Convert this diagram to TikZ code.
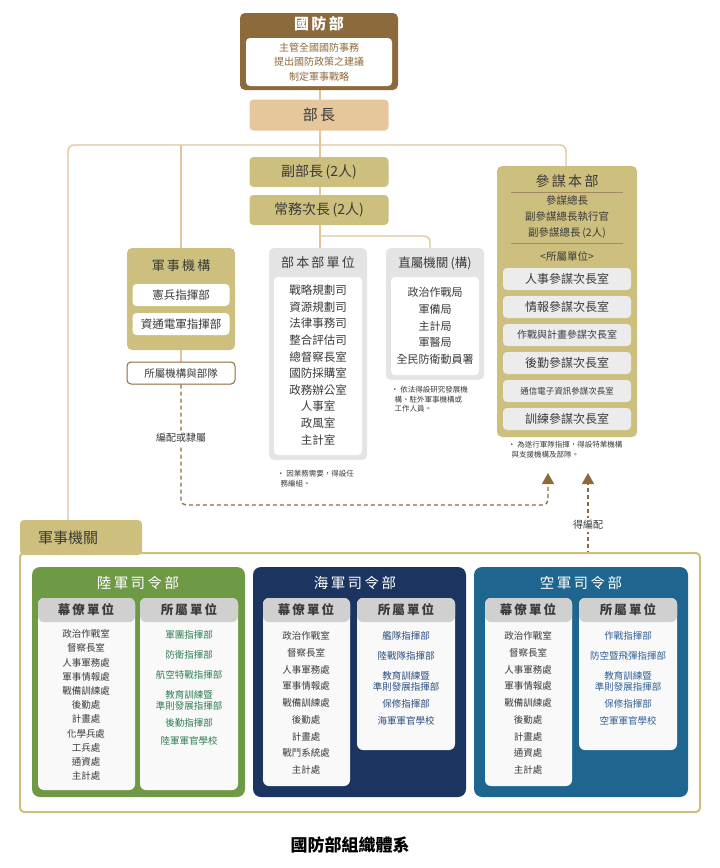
\documentclass[tikz,border=0pt]{standalone}
\usepackage{fontspec}
\setmainfont{Noto Sans CJK TC}
\usetikzlibrary{arrows.meta}
\definecolor{mndbrown}{HTML}{8C6A3C}
\definecolor{mndtan}{HTML}{E6C79C}
\definecolor{mndolive}{HTML}{CDBF7E}
\definecolor{mndline}{HTML}{E0C49C}
\definecolor{mndgray}{HTML}{E4E4E4}
\definecolor{mndtext}{HTML}{3A3A3A}
\definecolor{armygreen}{HTML}{6E9A46}
\definecolor{navyblue}{HTML}{1B3560}
\definecolor{airblue}{HTML}{1E6690}
\definecolor{armytext}{HTML}{2E7D4F}
\definecolor{navytext}{HTML}{2B4C7E}
\definecolor{airtext}{HTML}{2E5F96}
\tikzset{
  box/.style={rounded corners=4pt, inner sep=0pt},
  lbl/.style={text=mndtext, inner sep=0pt, align=center},
  head/.style={lbl, font=\fontsize{14}{16}\selectfont},
  link/.style={mndline, line width=1.3pt},
  dlink/.style={mndbrown, line width=1.3pt, dash pattern=on 4pt off 3pt},
  tip/.style={-{Triangle[length=11pt,width=12pt]}},
  note/.style={lbl, align=left, font=\fontsize{7.5}{9.5}\selectfont},
  colhead/.style={lbl, font=\fontsize{12.5}{14}\selectfont\bfseries},
}
\begin{document}
\begin{tikzpicture}[x=1pt,y=-1pt]
\useasboundingbox (0,0) rectangle (720,868);
% connectors behind
\draw[link, rounded corners=6pt] (68,520) -- (68,145) -- (566,145) -- (566,166);
\draw[link] (181,145) -- (181,248);
\draw[link] (320,90) -- (320,248);
\draw[link, rounded corners=6pt] (320,236) -- (430,236) -- (430,248);
\draw[link] (181,350) -- (181,362);
% top
\fill[mndbrown, rounded corners=5pt] (240,13) rectangle (398,90);
\node[lbl, text=white, font=\fontsize{15}{17}\selectfont\bfseries] (mnd) at (319,24) {國\,防\,部};
\fill[white, rounded corners=4pt] (246,38) rectangle (392,86);
\node[lbl, text=mndbrown, font=\fontsize{10}{14.5}\selectfont] (mndtxt) at (319,62) {主管全國國防事務\\提出國防政策之建議\\制定軍事戰略};
\node[box, fill=mndtan, minimum width=139pt, minimum height=31pt, head, font=\fontsize{15}{17}\selectfont] (minister) at (319,115) {部\,長};
\node[box, fill=mndolive, minimum width=139pt, minimum height=30pt, head] (deputy) at (319,172) {副部長\,(2人)};
\node[box, fill=mndolive, minimum width=139pt, minimum height=30pt, head] (vice) at (319,210) {常務次長\,(2人)};
% 軍事機構
\fill[mndolive, rounded corners=5pt] (127,248) rectangle (235,350);
\node[lbl, font=\fontsize{13}{15}\selectfont] (milorg) at (181,266) {軍\,事\,機\,構};
\node[box, fill=white, minimum width=97pt, minimum height=22pt, lbl, font=\fontsize{11.5}{13}\selectfont] (mp) at (181,295) {憲兵指揮部};
\node[box, fill=white, minimum width=97pt, minimum height=22pt, lbl, font=\fontsize{11.5}{13}\selectfont] (icef) at (181,324) {資通電軍指揮部};
\node[box, draw=mndbrown, line width=1pt, fill=white, minimum width=108pt, minimum height=22pt, lbl, font=\fontsize{10.5}{12}\selectfont] (subunits) at (181,373) {所屬機構與部隊};
% 部本部單位
\fill[mndgray, rounded corners=5pt] (269,248) rectangle (367,460);
\fill[white, rounded corners=4pt] (274,277) rectangle (362,455);
\node[lbl, font=\fontsize{13}{15}\selectfont] (hq) at (318,263) {部\,本\,部\,單\,位};
\node[lbl, font=\fontsize{11.5}{16.6}\selectfont] (hqlist) at (318,365) {戰略規劃司\\資源規劃司\\法律事務司\\整合評估司\\總督察長室\\國防採購室\\政務辦公室\\人事室\\政風室\\主計室};
\node[note, anchor=north west] (hqnote) at (277,470) {• 因業務需要，得設任\\\ \ 務編組。};
% 直屬機關
\fill[mndgray, rounded corners=5pt] (386,248) rectangle (484,380);
\fill[white, rounded corners=4pt] (391,277) rectangle (479,375);
\node[lbl, font=\fontsize{12.5}{15}\selectfont] (direct) at (435,263) {直屬機關\,(構)};
\node[lbl, font=\fontsize{11}{16.6}\selectfont] (dirlist) at (435,326) {政治作戰局\\軍備局\\主計局\\軍醫局\\全民防衛動員署};
\node[note, anchor=north west] (dirnote) at (391,386) {• 依法得設研究發展機\\\ \ 構、駐外軍事機構或\\\ \ 工作人員。};
% 參謀本部
\fill[mndolive, rounded corners=5pt] (497,166) rectangle (637,437);
\node[lbl, font=\fontsize{14}{16}\selectfont] (gs) at (567,181) {參\,謀\,本\,部};
\draw[mndbrown!80, line width=1pt] (511,192) -- (623,192) (511,243) -- (623,243);
\node[lbl, font=\fontsize{10.5}{16}\selectfont] (gschief) at (567,217) {參謀總長\\副參謀總長執行官\\副參謀總長\,(2人)};
\node[lbl, font=\fontsize{10.5}{12}\selectfont] (gssub) at (567,256) {<所屬單位>};
\foreach \y/\t/\f in {279/人事參謀次長室/12, 307/情報參謀次長室/12, 335/作戰與計畫參謀次長室/10, 363/後勤參謀次長室/12, 391/通信電子資訊參謀次長室/8.5, 419/訓練參謀次長室/12}
  \node[box, fill=mndgray!70, minimum width=128pt, minimum height=22pt, lbl, font=\fontsize{\f}{13}\selectfont] at (567,\y) {\t};
\node[note, anchor=north west] (gsnote) at (508,441) {• 為遂行軍隊指揮，得設特業機構\\\ \ 與支援機構及部隊。};
% dashed arrows
\coordinate (tipA) at (548,473);
\coordinate (tipB) at (588,473);
\coordinate (bottomB) at (588,555);
\draw[dlink, tip, rounded corners=5pt] (subunits.south) -- (181,505) -- (548,505) -- (tipA);
\draw[dlink, tip] (bottomB) -- (tipB);
\node[lbl, fill=white, inner sep=2pt, font=\fontsize{10}{12}\selectfont] (assign) at (181,438) {編配或隸屬};
\node[lbl, fill=white, inner sep=2pt, font=\fontsize{10}{12}\selectfont] (assign2) at (588,525) {得編配};
% 軍事機關
\draw[mndolive, line width=2pt, fill=white, rounded corners=4pt] (20,553) rectangle (700,812);
\fill[mndolive, rounded corners=4pt] (20,520) rectangle (142,555);
\node[lbl, font=\fontsize{15}{17}\selectfont] (milcmd) at (68,538) {軍事機關};
% 陸軍
\fill[armygreen, rounded corners=8pt] (32,567) rectangle (245,797);
\node[lbl, text=white, font=\fontsize{14.5}{16}\selectfont] (army) at (138,583) {陸\,軍\,司\,令\,部};
\fill[white!95!gray, rounded corners=6pt] (38,598) rectangle (135,790);
\fill[mndgray!80!gray, rounded corners=6pt] (38,598) rectangle (135,622);
\node[colhead] (armystaff) at (86,610) {幕\,僚\,單\,位};
\fill[white!95!gray, rounded corners=6pt] (140,598) rectangle (238,790);
\fill[mndgray!80!gray, rounded corners=6pt] (140,598) rectangle (238,622);
\node[colhead] (armysub) at (189,610) {所\,屬\,單\,位};
\node[lbl, font=\fontsize{9.5}{14.2}\selectfont] (armylist) at (86,705) {政治作戰室\\督察長室\\人事軍務處\\軍事情報處\\戰備訓練處\\後勤處\\計畫處\\化學兵處\\工兵處\\通資處\\主計處};
\foreach \y/\t in {635/軍團指揮部, 655/防衛指揮部, 675/航空特戰指揮部, 700/教育訓練暨\\準則發展指揮部, 723/後勤指揮部, 741/陸軍軍官學校}
  \node[lbl, text=armytext, font=\fontsize{9.5}{11}\selectfont] at (189,\y) {\t};
% 海軍
\fill[navyblue, rounded corners=8pt] (253,567) rectangle (466,797);
\node[lbl, text=white, font=\fontsize{14.5}{16}\selectfont] (navy) at (355,583) {海\,軍\,司\,令\,部};
\fill[white!95!gray, rounded corners=6pt] (263,598) rectangle (350,786);
\fill[mndgray!80!gray, rounded corners=6pt] (263,598) rectangle (350,622);
\node[colhead] (navystaff) at (306,610) {幕\,僚\,單\,位};
\fill[white!95!gray, rounded corners=6pt] (357,598) rectangle (455,750);
\fill[mndgray!80!gray, rounded corners=6pt] (357,598) rectangle (455,622);
\node[colhead] (navysub) at (406,610) {所\,屬\,單\,位};
\node[lbl, font=\fontsize{9.5}{16.7}\selectfont] (navylist) at (306,703) {政治作戰室\\督察長室\\人事軍務處\\軍事情報處\\戰備訓練處\\後勤處\\計畫處\\戰鬥系統處\\主計處};
\foreach \y/\t in {636/艦隊指揮部, 656/陸戰隊指揮部, 681/教育訓練暨\\準則發展指揮部, 704/保修指揮部, 721/海軍軍官學校}
  \node[lbl, text=navytext, font=\fontsize{9.5}{11}\selectfont] at (406,\y) {\t};
% 空軍
\fill[airblue, rounded corners=8pt] (474,567) rectangle (688,797);
\node[lbl, text=white, font=\fontsize{14.5}{16}\selectfont] (airforce) at (581,583) {空\,軍\,司\,令\,部};
\fill[white!95!gray, rounded corners=6pt] (485,598) rectangle (572,786);
\fill[mndgray!80!gray, rounded corners=6pt] (485,598) rectangle (572,622);
\node[colhead] (airstaff) at (528,610) {幕\,僚\,單\,位};
\fill[white!95!gray, rounded corners=6pt] (579,598) rectangle (677,750);
\fill[mndgray!80!gray, rounded corners=6pt] (579,598) rectangle (677,622);
\node[colhead] (airsub) at (628,610) {所\,屬\,單\,位};
\node[lbl, font=\fontsize{9.5}{16.7}\selectfont] (airlist) at (528,703) {政治作戰室\\督察長室\\人事軍務處\\軍事情報處\\戰備訓練處\\後勤處\\計畫處\\通資處\\主計處};
\foreach \y/\t in {636/作戰指揮部, 656/防空暨飛彈指揮部, 681/教育訓練暨\\準則發展指揮部, 704/保修指揮部, 721/空軍軍官學校}
  \node[lbl, text=airtext, font=\fontsize{9.5}{11}\selectfont] at (628,\y) {\t};
% caption
\node[lbl, text=black, font=\fontsize{17}{19}\selectfont\bfseries] (caption) at (350,845) {國防部組織體系};
\end{tikzpicture}
\end{document}
